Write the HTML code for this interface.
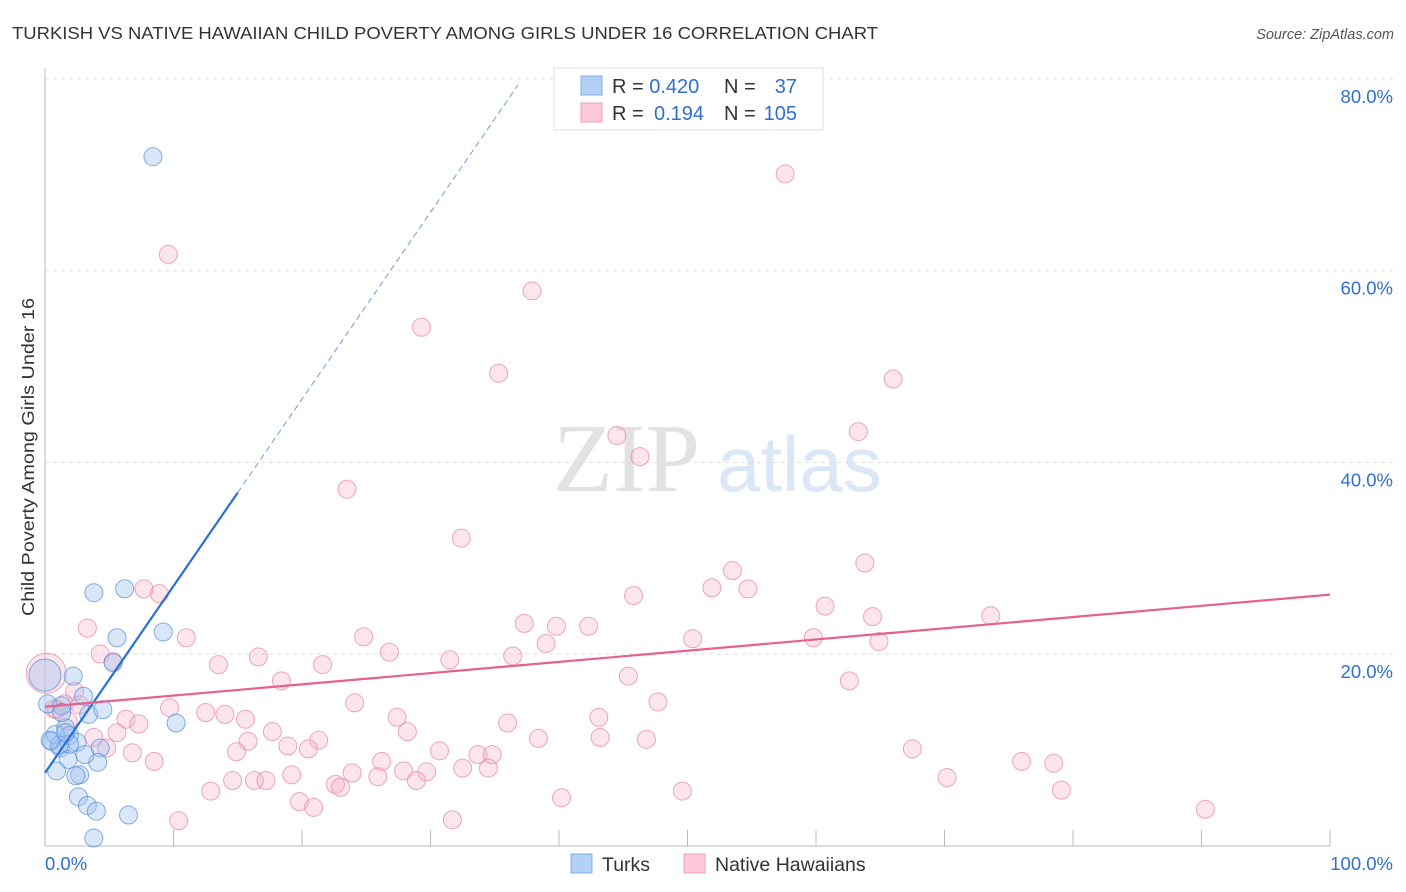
<!DOCTYPE html>
<html><head><meta charset="utf-8"><style>
body{margin:0;background:#fff;font-family:"Liberation Sans",sans-serif;}
svg{display:block}
</style></head><body>
<svg id="chart" width="1406" height="892" xmlns="http://www.w3.org/2000/svg">
<text x="12" y="39" font-size="17.5" fill="#333" textLength="866" lengthAdjust="spacingAndGlyphs">TURKISH VS NATIVE HAWAIIAN CHILD POVERTY AMONG GIRLS UNDER 16 CORRELATION CHART</text>
<text x="1394" y="39" font-size="14.5" fill="#555" font-style="italic" text-anchor="end">Source: ZipAtlas.com</text>
<g>
<text x="553" y="491" font-family="Liberation Serif,serif" font-size="98" fill="#e2e2e2">ZIP</text>
<text x="717" y="491" font-size="78" fill="#dbe7f6">atlas</text>
</g>
<g id="grid"></g>
<g id="axes"></g>
<g id="pts"></g>
<g id="lines"></g>
<text transform="translate(34,457) rotate(-90)" font-size="17.5" fill="#333" text-anchor="middle" textLength="318" lengthAdjust="spacingAndGlyphs">Child Poverty Among Girls Under 16</text>
<g>
<rect x="554" y="68" width="269" height="62" fill="#fff" stroke="#ddd"/>
<rect x="581" y="76" width="21" height="19" fill="#b3d0f5" stroke="#80aee8"/>
<rect x="581" y="103" width="21" height="19" fill="#fcc7d6" stroke="#f0a0b8"/>
<text x="612" y="93" font-size="20" fill="#333">R = <tspan fill="#2f6fd0">0.420</tspan></text>
<text x="724" y="93" font-size="20" fill="#333">N = </text><text x="797" y="93" font-size="20" fill="#2f6fd0" text-anchor="end">37</text>
<text x="612" y="120" font-size="20" fill="#333">R = </text><text x="654" y="120" font-size="20" fill="#2f6fd0">0.194</text>
<text x="724" y="120" font-size="20" fill="#333">N = </text><text x="797" y="120" font-size="20" fill="#2f6fd0" text-anchor="end">105</text>
</g>
<g><rect x="571" y="854" width="21" height="19" fill="#b3d0f5" stroke="#80aee8"/><text x="602" y="871" font-size="19.5" fill="#333">Turks</text></g>
<g><rect x="684" y="854" width="21" height="19" fill="#fcc7d6" stroke="#f0a0b8"/><text x="715" y="871" font-size="19.5" fill="#333">Native Hawaiians</text></g>
</svg>
<script>
const yTicks=[20,40,60,80];
const xTickLabels=["0.0%","100.0%"];
const turksX=[8.4,3.8,6.2,5.6,9.2,5.3,2.2,3.0,0.2,1.3,3.4,4.5,10.2,1.6,1.9,0.5,1.2,2.5,4.3,1.8,4.1,0.9,2.7,2.4,2.6,3.3,4.0,6.5,3.8,0,1.3,0.8,3.1,1.9,1.1,0.4,1.6];
const turksY=[71.9,26.4,26.8,21.7,22.3,19.1,17.7,15.6,14.8,14.6,13.7,14.2,12.8,12.3,11.5,10.9,10.2,10.8,10.2,9.0,8.7,7.8,7.4,7.3,5.1,4.2,3.6,3.2,0.8,17.8,13.9,11.6,9.5,10.6,10.5,11.0,11.8];
const hawX=[57.6,9.6,37.9,29.3,35.3,66.0,44.5,46.3,63.3,23.5,32.4,63.8,53.5,51.9,54.7,45.8,7.7,8.9,60.7,64.4,73.6,37.3,39.8,42.3,24.8,39.0,11.0,50.4,59.8,64.9,3.3,26.8,4.3,5.3,16.6,31.5,36.4,13.5,21.6,45.4,62.6,18.4,2.3,1.5,2.7,24.1,47.7,0.7,9.7,12.5,14.0,15.6,6.3,27.4,36.0,43.1,7.3,1.8,17.7,5.6,28.2,3.8,21.3,38.4,43.2,46.8,4.8,15.8,18.9,20.5,14.9,6.8,30.7,33.7,34.8,67.5,26.2,8.5,27.9,32.5,34.5,29.7,23.9,25.9,19.2,14.6,16.3,17.2,22.6,23.0,28.9,70.2,76.0,78.5,12.9,19.8,20.9,40.2,49.6,79.1,90.3,10.4,31.7,0.1,0.9];
const hawY=[70.1,61.7,57.9,54.1,49.3,48.7,42.8,40.6,43.2,37.2,32.1,29.5,28.7,26.9,26.8,26.1,26.8,26.3,25.0,23.9,24.0,23.2,22.9,22.9,21.8,21.1,21.7,21.6,21.7,21.3,22.7,20.2,20.0,19.2,19.7,19.4,19.8,18.9,18.9,17.7,17.2,17.2,16.1,14.8,14.7,14.9,15.0,14.3,14.4,13.9,13.7,13.2,13.2,13.4,12.8,13.4,12.7,13.0,11.9,11.8,11.9,11.3,11.0,11.2,11.3,11.1,10.2,10.9,10.4,10.1,9.8,9.7,9.9,9.5,9.5,10.1,8.8,8.8,7.8,8.1,8.1,7.7,7.6,7.2,7.4,6.8,6.8,6.8,6.4,6.1,6.8,7.1,8.8,8.6,5.7,4.6,4.0,5.0,5.7,5.8,3.8,2.6,2.7,18.0,14.2];
const turksBig=[29];
const hawBig=[103];
const turksLine=[7.6,1.95]; // intercept, slope
const hawLine=[14.5,0.117];
const sx=v=>45+v*12.85;
const sy=v=>845.7-v*9.583;
const NS="http://www.w3.org/2000/svg";
function mk(tag,attrs,parent){const e=document.createElementNS(NS,tag);for(const k in attrs)e.setAttribute(k,attrs[k]);parent.appendChild(e);return e;}
const grid=document.getElementById('grid'),axes=document.getElementById('axes'),pts=document.getElementById('pts'),lines=document.getElementById('lines');
yTicks.forEach(t=>{
  const l=mk('line',{x1:45,x2:1394,y1:sy(t),y2:sy(t),stroke:'#ddd','stroke-dasharray':'4,4'},grid);
  
  
  const tx=mk('text',{x:1393,y:sy(t)+24,'font-size':18.5,fill:'#2f6fd0','text-anchor':'end'},axes);
  tx.textContent=t.toFixed(1)+'%';
  
  
});
mk('line',{x1:45,x2:45,y1:68,y2:846,stroke:'#bbb'},axes);
mk('line',{x1:45,x2:1330,y1:846,y2:846,stroke:'#bbb'},axes);
for(let i=0;i<=10;i++){const t=mk('line',{x1:sx(i*10),x2:sx(i*10),y1:830,y2:846,stroke:'#bbb'},axes);}
const xl0=mk('text',{x:45,y:870,'font-size':18.5,fill:'#2f6fd0'},axes);xl0.textContent=xTickLabels[0];


const xl1=mk('text',{x:1393,y:870,'font-size':18.5,fill:'#2f6fd0','text-anchor':'end'},axes);xl1.textContent=xTickLabels[1];


hawX.forEach((x,i)=>{
  const c=mk('circle',{cx:sx(x),cy:sy(hawY[i]),r:hawBig.includes(i)?20:9,fill:'rgba(248,175,198,0.33)',stroke:'rgba(230,130,160,0.7)','stroke-width':1},pts);
  
  
});
turksX.forEach((x,i)=>{
  const c=mk('circle',{cx:sx(x),cy:sy(turksY[i]),r:turksBig.includes(i)?16:9,fill:'rgba(160,196,240,0.4)',stroke:'rgba(80,140,220,0.7)','stroke-width':1},pts);
  
  
});
const t1=mk('line',{x1:sx(0),y1:sy(turksLine[0]),x2:sx(15),y2:sy(turksLine[0]+15*turksLine[1]),stroke:'#2a6fd8','stroke-width':2.2},lines);


const t2=mk('line',{x1:sx(15),y1:sy(turksLine[0]+15*turksLine[1]),x2:sx(36.8),y2:sy(turksLine[0]+36.8*turksLine[1]),stroke:'#6a9be0','stroke-width':1,'stroke-dasharray':'6,4'},lines);


const h1=mk('line',{x1:sx(0),y1:sy(hawLine[0]),x2:sx(100),y2:sy(hawLine[0]+100*hawLine[1]),stroke:'#e8608c','stroke-width':2.2},lines);


</script>
</body></html>
